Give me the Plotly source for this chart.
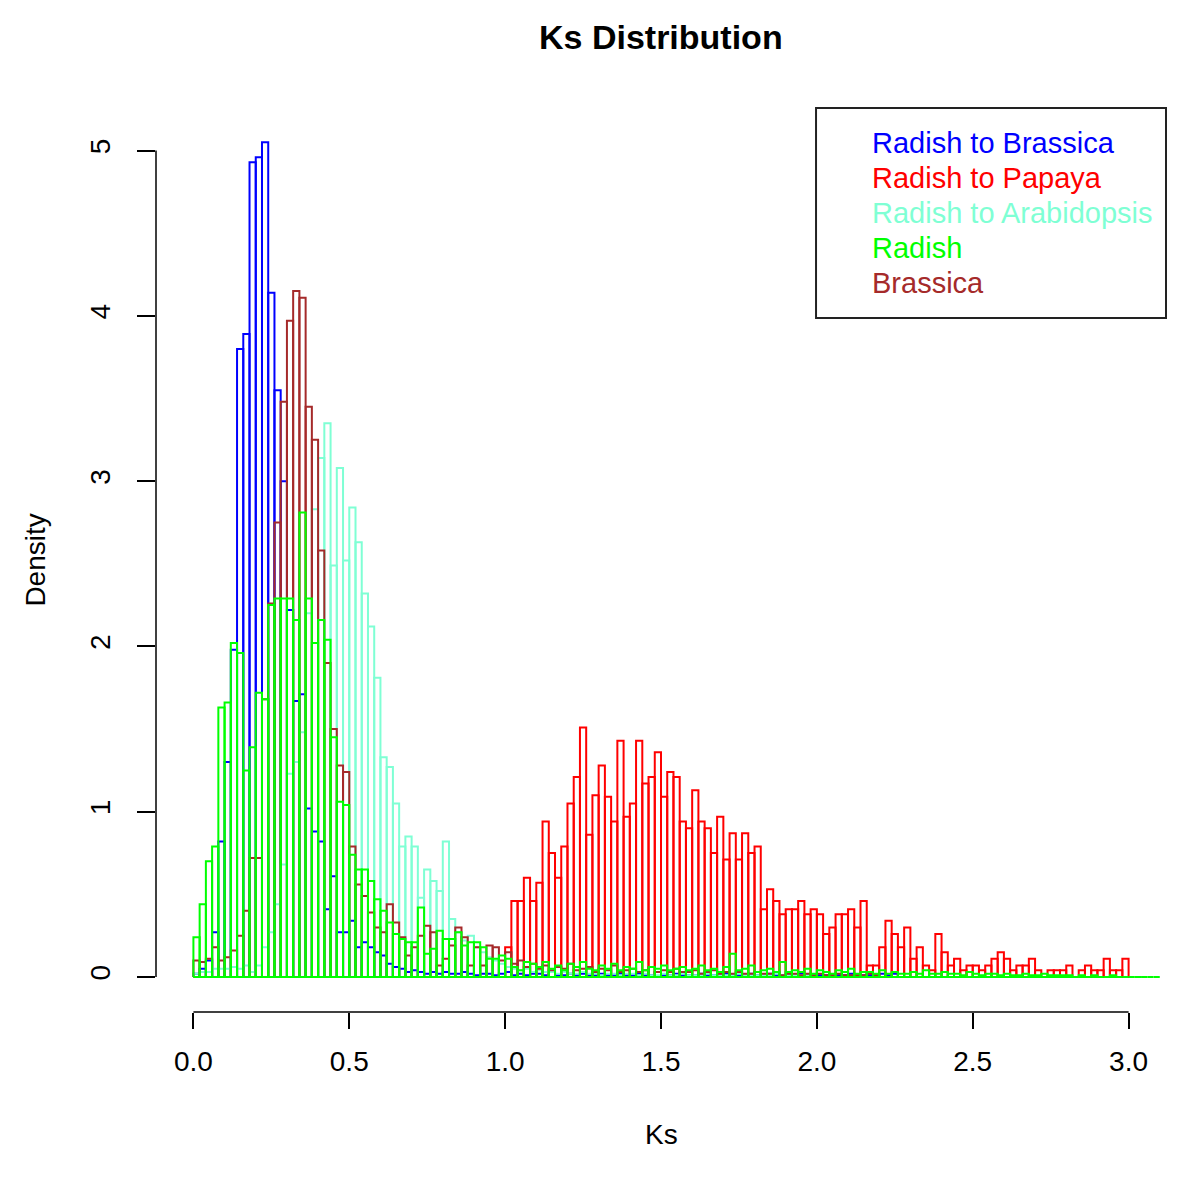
import plotly.graph_objects as go

# histogram densities, bin width 0.02
bin_w = 0.02

brassica_pair_start = 0.0  # Radish to Brassica
brassica_pair = [
    0.02, 0.05, 0.10, 0.27, 0.82, 1.30, 1.98, 3.80, 3.89, 4.93,
    4.96, 5.05, 4.14, 3.55, 3.00, 2.22, 1.67, 1.71, 1.02, 0.88,
    0.82, 0.41, 0.61, 0.27, 0.27, 0.34, 0.18, 0.21, 0.18, 0.15,
    0.13, 0.08, 0.06, 0.05, 0.03, 0.04, 0.03, 0.02, 0.03, 0.02,
    0.03, 0.02, 0.02, 0.03, 0.02, 0.01, 0.02, 0.02, 0.01, 0.02,
    0.03, 0.01, 0.02, 0.01, 0.02, 0.02, 0.01, 0.03, 0.01, 0.01,
    0.02, 0.01, 0.02, 0.01, 0.01, 0.02, 0.01, 0.01, 0.02, 0.01,
    0.01, 0.02, 0.01, 0.01, 0.03, 0.01, 0.01, 0.02, 0.01, 0.01,
    0.01, 0.02, 0.01, 0.01, 0.01, 0.02, 0.01, 0.01, 0.01, 0.02,
    0.01, 0.01, 0.02, 0.01, 0.01, 0.01, 0.01, 0.02, 0.01, 0.01,
    0.01, 0.01, 0.01, 0.01, 0.01, 0.02, 0.01, 0.01, 0.01, 0.01,
    0.02, 0.01, 0.02,
]

papaya_start = 1.0  # Radish to Papaya
papaya = [
    0.18, 0.46, 0.46, 0.60, 0.46, 0.57, 0.94, 0.75, 0.60, 0.79,
    1.05, 1.21, 1.51, 0.86, 1.10, 1.28, 1.09, 0.94, 1.43, 0.97,
    1.05, 1.43, 1.17, 1.21, 1.36, 1.09, 1.24, 1.21, 0.94, 0.90,
    1.13, 0.94, 0.90, 0.75, 0.97, 0.71, 0.87, 0.71, 0.87, 0.75,
    0.79, 0.41, 0.53, 0.46, 0.38, 0.41, 0.41, 0.46, 0.38, 0.41,
    0.38, 0.26, 0.30, 0.38, 0.38, 0.41, 0.30, 0.46, 0.07, 0.07,
    0.18, 0.34, 0.26, 0.18, 0.30, 0.11, 0.18, 0.07, 0.04, 0.26,
    0.15, 0.07, 0.11, 0.04, 0.07, 0.07, 0.04, 0.07, 0.11, 0.15,
    0.11, 0.04, 0.07, 0.07, 0.11, 0.04, 0.00, 0.04, 0.04, 0.04,
    0.07, 0.00, 0.04, 0.07, 0.04, 0.04, 0.11, 0.04, 0.04, 0.11,
]

arabidopsis_start = 0.0  # Radish to Arabidopsis
arabidopsis = [
    0.02, 0.03, 0.03, 0.05, 0.05, 0.05, 0.06, 0.05, 0.07, 0.03,
    0.07, 0.18, 0.27, 0.44, 0.68, 1.23, 1.30, 1.48, 2.20, 2.83,
    3.14, 3.35, 2.49, 3.08, 2.52, 2.84, 2.63, 2.32, 2.12, 1.81,
    1.33, 1.27, 1.05, 0.79, 0.85, 0.79, 0.48, 0.65, 0.58, 0.52,
    0.82, 0.35, 0.27, 0.22, 0.25, 0.18, 0.15, 0.12, 0.10, 0.08,
    0.06, 0.05, 0.04, 0.05, 0.03, 0.04, 0.03, 0.03, 0.02, 0.03,
    0.02, 0.02, 0.03, 0.02, 0.02, 0.01, 0.02, 0.02, 0.01, 0.02,
    0.02, 0.01, 0.02, 0.01, 0.01, 0.02, 0.01, 0.01, 0.02, 0.01,
    0.01, 0.01, 0.02, 0.01, 0.01, 0.01, 0.01, 0.02, 0.01, 0.01,
    0.01, 0.01, 0.01, 0.02, 0.01, 0.01, 0.01, 0.01, 0.01, 0.01,
]

brassica_start = 0.0  # Brassica
brassica = [
    0.10, 0.09, 0.11, 0.18, 0.10, 0.12, 0.16, 0.25, 0.40, 0.72,
    0.72, 1.68, 2.26, 2.75, 3.48, 3.97, 4.15, 4.11, 3.45, 3.25,
    2.58, 1.90, 1.50, 1.28, 1.24, 0.79, 0.56, 0.49, 0.39, 0.30,
    0.27, 0.44, 0.33, 0.24, 0.13, 0.18, 0.25, 0.31, 0.27, 0.07,
    0.11, 0.19, 0.30, 0.24, 0.07, 0.18, 0.07, 0.19, 0.18, 0.10,
    0.15, 0.08, 0.10, 0.06, 0.08, 0.05, 0.07, 0.04, 0.06, 0.05,
    0.08, 0.04, 0.05, 0.06, 0.03, 0.05, 0.04, 0.07, 0.03, 0.04,
    0.05, 0.03, 0.04, 0.06, 0.03, 0.04, 0.03, 0.05, 0.03, 0.03,
    0.04, 0.02, 0.03, 0.04, 0.02, 0.03, 0.02, 0.03, 0.02, 0.02,
    0.03, 0.02, 0.02, 0.03, 0.01, 0.02, 0.02, 0.01, 0.02, 0.01,
    0.02, 0.01, 0.01, 0.02, 0.01, 0.01, 0.01, 0.01, 0.02, 0.01,
]

radish_start = 0.0  # Radish
radish = [
    0.24, 0.44, 0.70, 0.79, 1.63, 1.66, 2.02, 1.96, 1.25, 1.39,
    1.72, 1.68, 2.25, 2.29, 2.29, 2.29, 2.16, 2.81, 2.29, 2.02,
    2.16, 2.04, 1.45, 1.06, 1.04, 0.74, 0.65, 0.65, 0.58, 0.47,
    0.40, 0.33, 0.26, 0.23, 0.21, 0.21, 0.42, 0.14, 0.17, 0.28,
    0.23, 0.23, 0.27, 0.19, 0.21, 0.21, 0.18, 0.11, 0.11, 0.13,
    0.11, 0.06, 0.04, 0.09, 0.08, 0.06, 0.09, 0.05, 0.07, 0.04,
    0.08, 0.06, 0.09, 0.05, 0.04, 0.07, 0.05, 0.08, 0.04, 0.06,
    0.05, 0.09, 0.04, 0.06, 0.05, 0.07, 0.04, 0.05, 0.06, 0.04,
    0.05, 0.07, 0.04, 0.05, 0.03, 0.06, 0.14, 0.04, 0.05, 0.07,
    0.03, 0.04, 0.05, 0.03, 0.09, 0.03, 0.04, 0.03, 0.05, 0.02,
    0.04, 0.03, 0.02, 0.04, 0.03, 0.05, 0.02, 0.03, 0.03, 0.02,
    0.04, 0.02, 0.03, 0.02, 0.02, 0.03, 0.02, 0.04, 0.02, 0.02,
    0.03, 0.02, 0.02, 0.01, 0.03, 0.02, 0.01, 0.02, 0.02, 0.01,
    0.02, 0.01, 0.01, 0.02, 0.01, 0.01, 0.02, 0.01, 0.01, 0.01,
    0.01, 0.00, 0.01, 0.00, 0.01, 0.00, 0.00, 0.01, 0.00, 0.00,
    0.00, 0.00, 0.00, 0.00, 0.00,
]

legend_names = ["Radish to Brassica", "Radish to Papaya",
                "Radish to Arabidopsis", "Radish", "Brassica"]
legend_cols = ["#0000FF", "#FF0000", "#7FFFD4", "#00FF00", "#A52A2A"]

x_ticks = [0.0, 0.5, 1.0, 1.5, 2.0, 2.5, 3.0]
y_ticks = [0, 1, 2, 3, 4, 5]

FONT = "Liberation Sans, Arial, sans-serif"


def outline(start, heights):
    # each bin as an open rectangle, like R's hist(add=TRUE) with border colour
    xs, ys = [], []
    for i, h in enumerate(heights):
        x0 = round(start + i * bin_w, 4)
        x1 = round(x0 + bin_w, 4)
        xs += [x0, x0, x1, x1, x0, None]
        ys += [0, h, h, 0, 0, None]
    return xs, ys


# drawing order as in the original (green ends up on top)
series = [
    (brassica_pair_start, brassica_pair, "#0000FF"),
    (papaya_start, papaya, "#FF0000"),
    (arabidopsis_start, arabidopsis, "#7FFFD4"),
    (brassica_start, brassica, "#A52A2A"),
    (radish_start, radish, "#00FF00"),
]

fig = go.Figure()
for start, vals, col in series:
    xs, ys = outline(start, vals)
    fig.add_trace(go.Scatter(x=xs, y=ys, mode="lines",
                             line=dict(color=col, width=2),
                             hoverinfo="skip", showlegend=False))

# page body adds 8px, so margins are 8px smaller than the target offsets
fig.update_layout(
    width=1200, height=1180,
    margin=dict(l=148, r=42, t=58, b=176),
    plot_bgcolor="white", paper_bgcolor="white",
    font=dict(family=FONT, size=28, color="black"),
    showlegend=False,
)
fig.update_xaxes(
    range=[-0.12, 3.12], tickvals=x_ticks,
    ticktext=[f"{v:.1f}" for v in x_ticks],
    ticks="outside", ticklen=16, tickwidth=1.5, tickcolor="black",
    showgrid=False, zeroline=False, showline=False, automargin=False,
    ticklabelstandoff=8,
)
fig.update_yaxes(
    range=[-0.212, 5.512], tickvals=y_ticks, tickangle=-90,
    ticks="outside", ticklen=18, tickwidth=1.5, tickcolor="black",
    showgrid=False, zeroline=False, showline=False, automargin=False,
    ticklabelstandoff=16,
)

# R style axes: line only from first to last tick
fig.add_shape(type="line", xref="x", yref="paper", x0=x_ticks[0], x1=x_ticks[-1],
              y0=0, y1=0, line=dict(color="black", width=1.5))
fig.add_shape(type="line", xref="paper", yref="y", x0=0, x1=0,
              y0=y_ticks[0], y1=y_ticks[-1], line=dict(color="black", width=1.5))

fig.add_annotation(text="<b>Ks Distribution</b>", xref="paper", yref="paper",
                   x=0.5, y=1.031, showarrow=False, font=dict(size=34),
                   xanchor="center", yanchor="middle")
fig.add_annotation(text="Ks", xref="paper", yref="paper", x=0.5, y=-0.130,
                   showarrow=False, xanchor="center", yanchor="middle")
fig.add_annotation(text="Density", xref="paper", yref="paper", x=-0.119, y=0.478,
                   showarrow=False, textangle=-90, xanchor="center", yanchor="middle")

# legend box (text only, like legend(text.col=...))
fig.add_shape(type="rect", xref="paper", yref="paper", x0=0.6535, x1=1.0,
              y0=0.7336, y1=0.9556, line=dict(color="#222222", width=2),
              fillcolor="white", layer="above")
for k, (name, col) in enumerate(zip(legend_names, legend_cols)):
    fig.add_annotation(text=name, xref="paper", yref="paper",
                       x=0.7069, y=0.9186 - k * 0.037, showarrow=False,
                       xanchor="left", yanchor="middle",
                       font=dict(color=col, size=29))

fig.write_html("out.html")
